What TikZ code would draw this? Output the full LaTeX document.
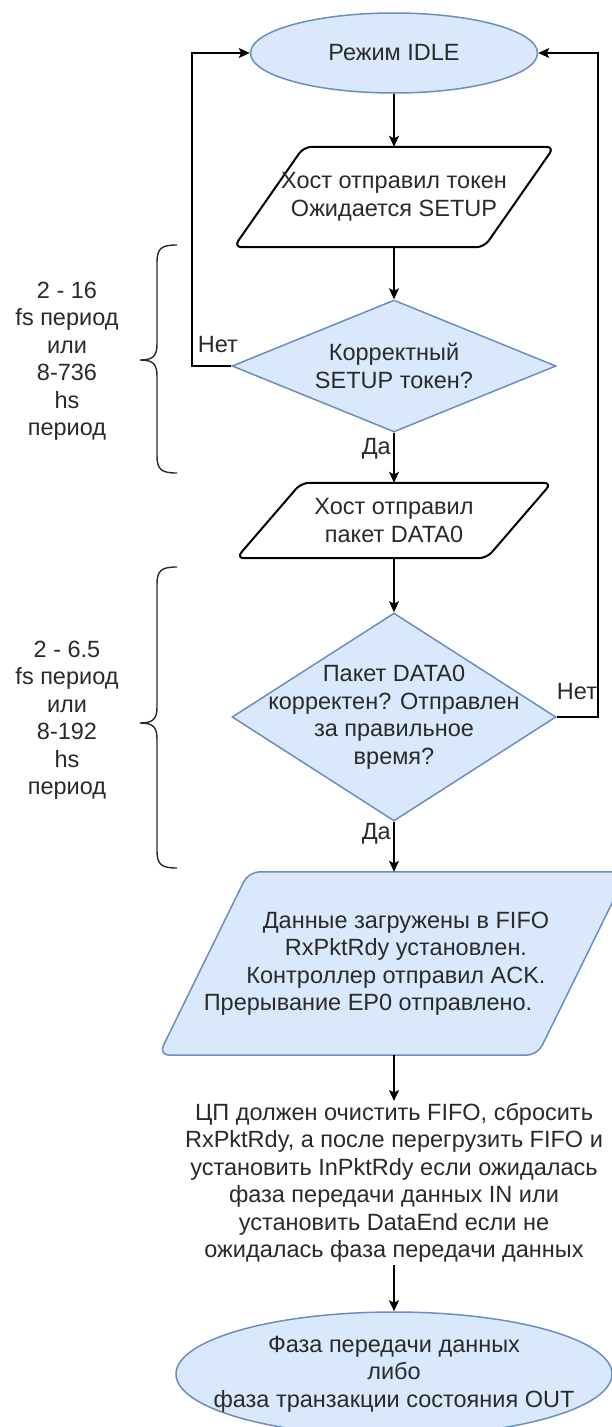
\documentclass[tikz,border=0pt]{standalone}
\usepackage{fontspec}
\setmainfont{Liberation Sans}
\usetikzlibrary{shapes.geometric, arrows.meta}
\pgfdeclarelayer{bg}
\pgfsetlayers{bg,main}
\definecolor{bfill}{HTML}{DAE8FC}
\definecolor{bline}{HTML}{6C8EBF}
\definecolor{txt}{HTML}{2A2A2A}
\begin{document}
\begin{tikzpicture}[x=1pt,y=-1pt,
  every node/.style={font=\fontsize{23.5}{27.5}\selectfont, text=txt},
  term/.style={ellipse, draw=bline, fill=bfill, line width=1.5pt, inner sep=0pt},
  dec/.style={diamond, draw=bline, fill=bfill, line width=1.5pt, inner sep=0pt, align=center},
  iobox/.style={inner sep=0pt, align=center},
  paraline/.style={draw=black, line width=2pt, rounded corners=8pt, fill=white},
  parablue/.style={draw=bline, fill=bfill, line width=1.5pt, rounded corners=11pt},
  arr/.style={-{Stealth[length=11pt,width=10pt,inset=2.5pt]}, line width=1.4pt, draw=black},
  brc/.style={draw=txt, line width=1.4pt},
  lbl/.style={inner sep=1pt}]
\useasboundingbox (0,0) rectangle (611,1427);
\begin{pgfonlayer}{bg}
\fill[white] (0,0) rectangle (611,1427);
\end{pgfonlayer}

\coordinate (lcol) at (192,0);
\coordinate (rcol) at (598,0);

% nodes
\node[term, minimum width=287pt, minimum height=80pt] (idle) at (394,53) {Режим IDLE};
\node[iobox, minimum width=250pt, minimum height=100pt] (p1) at (394,197) {Хост отправил токен\\Ожидается SETUP};
\node[dec, aspect=2.45, minimum width=324pt, minimum height=132pt] (d1) at (394,366) {Корректный\\SETUP токен?};
\node[iobox, minimum width=250pt, minimum height=75pt] (p2) at (394,520.5) {Хост отправил\\пакет DATA0};
\node[dec, minimum width=324pt, minimum height=208pt,
  label={[align=center]center:{Пакет DATA0\\корректен? Отправлен\\за правильное\\время?}}] (d2) at (394,717) {};
\node[iobox, minimum width=336pt, minimum height=183pt] (p3) at (393,963.5)
  {\kern26pt Данные загружены в FIFO\\\kern26pt RxPktRdy установлен.\\\kern6pt Контроллер отправил ACK.\\Прерывание EP0 отправлено.\kern50pt};
\node[align=center, inner sep=2pt] (cpu) at (394,1183) {ЦП должен очистить FIFO, сбросить\\RxPktRdy, а после перегрузить FIFO и\\установить InPktRdy если ожидалась\\фаза передачи данных IN или\\установить DataEnd если не\\ожидалась фаза передачи данных};
\node[term, minimum width=436pt, minimum height=124pt,
  label={[align=center]center:{Фаза передачи данных\\либо\\фаза транзакции состояния OUT}}] (out) at (394,1374) {};

% parallelogram outlines
\begin{pgfonlayer}{bg}
\draw[paraline] ([xshift=-35pt]p1.south west) -- ([xshift=-35pt]p1.south east) -- ([xshift=35pt]p1.north east) -- ([xshift=35pt]p1.north west) -- cycle;
\draw[paraline] ([xshift=-32.5pt]p2.south west) -- ([xshift=-32.5pt]p2.south east) -- ([xshift=32.5pt]p2.north east) -- ([xshift=32.5pt]p2.north west) -- cycle;
\draw[parablue] ([xshift=-45pt]p3.south west) -- ([xshift=-45pt]p3.south east) -- ([xshift=45pt]p3.north east) -- ([xshift=45pt]p3.north west) -- cycle;
\end{pgfonlayer}

% labels
\node[lbl] (no1) at (218,345) {Нет};
\node[lbl] (no2) at (577,692) {Нет};
\node[lbl, anchor=east] (yes1) at (392,449) {Да};
\node[lbl, anchor=east] (yes2) at (392,834) {Да};

% side notes
\node[align=center] (t1) at (67,361) {2 - 16\\fs период\\или\\8-736\\hs\\период};
\node[align=center] (t2) at (67,720) {2 - 6.5\\fs период\\или\\8-192\\hs\\период};

% connectors
\draw[arr] (idle) -- (p1);
\draw[arr] (p1) -- (d1);
\draw[arr] (d1) -- (p2);
\draw[arr] (p2) -- (d2);
\draw[arr] (d2) -- (d2 |- p3.north);
\draw[arr] (p3.south -| cpu) -- (cpu);
\draw[arr] (cpu) -- (out);
\draw[arr] (d1.west) -- (d1.west -| lcol) |- (idle.west);
\draw[arr] (d2.east) -- (d2.east -| rcol) |- (idle.east);

% braces
\draw[brc] (177,245) .. controls (162,245) and (157,248) .. (157,262) -- (157,344)
  .. controls (157,356) and (153,360) .. (140,360)
  .. controls (153,360) and (157,364) .. (157,376) -- (157,456)
  .. controls (157,470) and (162,473) .. (177,473);
\draw[brc] (177,567) .. controls (162,567) and (157,570) .. (157,584) -- (157,707)
  .. controls (157,719) and (153,723) .. (140,723)
  .. controls (153,723) and (157,727) .. (157,739) -- (157,851)
  .. controls (157,865) and (162,868) .. (177,868);
\end{tikzpicture}
\end{document}
